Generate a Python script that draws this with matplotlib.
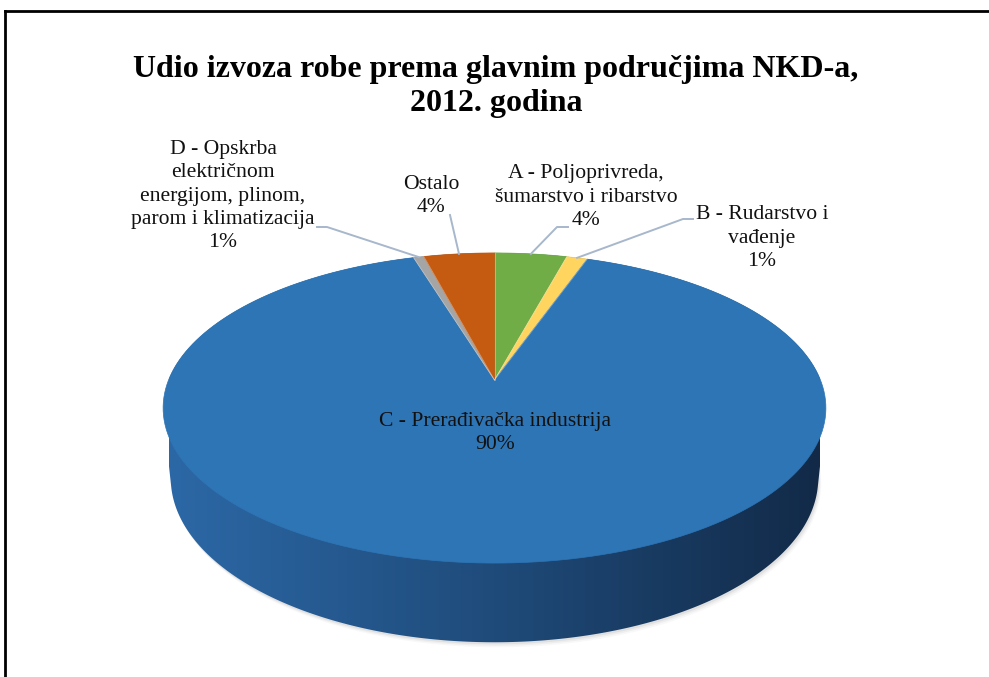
import numpy as np
import matplotlib
matplotlib.use("Agg")
import matplotlib.pyplot as plt
from matplotlib.patches import Polygon
from matplotlib.lines import Line2D
from matplotlib.colors import LinearSegmentedColormap

# ---------------- data ----------------
title_lines = ["Udio izvoza robe prema glavnim područjima NKD-a,", "2012. godina"]
categories = ["A - Poljoprivreda,\nšumarstvo i ribarstvo",
              "B - Rudarstvo i\nvađenje",
              "C - Prerađivačka industrija",
              "D - Opskrba\nelektričnom\nenergijom, plinom,\nparom i klimatizacija",
              "Ostalo"]
values = [4.2, 1.2, 89.9, 0.6, 4.1]
colors = ["#70ad47", "#ffd45f", "#2e75b6", "#a5a5a5", "#c55a11"]

# ---------------- layout / projection ----------------
W, Hh = 989, 677
fig = plt.figure(figsize=(W / 100, Hh / 100), dpi=100)
ax = fig.add_axes([0, 0, 1, 1])
ax.set_xlim(0, W)
ax.set_ylim(Hh, 0)
ax.axis("off")

PHI = np.radians(27.4)
S, C = np.sin(PHI), np.cos(PHI)
DIST = 5.536 * C
FOC = 1602.0
DEPTH = 0.245
CX, CY = 494.5, 380.0


def proj(X, Y, Z):
    yc = Y * S + Z * C
    d = DIST + Y * C - Z * S
    return CX + FOC * X / d, CY - FOC * yc / d


def edge(theta, z):
    return proj(np.sin(theta), np.cos(theta), z)


def convex_hull(points):
    pts = sorted(map(tuple, points))

    def cross(o, a, b):
        return (a[0] - o[0]) * (b[1] - o[1]) - (a[1] - o[1]) * (b[0] - o[0])

    lower, upper = [], []
    for p in pts:
        while len(lower) >= 2 and cross(lower[-2], lower[-1], p) <= 0:
            lower.pop()
        lower.append(p)
    for p in reversed(pts):
        while len(upper) >= 2 and cross(upper[-2], upper[-1], p) <= 0:
            upper.pop()
        upper.append(p)
    return np.array(lower[:-1] + upper[:-1])


total = sum(values)
bounds = np.concatenate([[0], np.cumsum(values)]) / total * 2 * np.pi

# silhouette of the whole disc (top + bottom rims)
tt = np.linspace(0, 2 * np.pi, 720)
tx, ty = edge(tt, 0)
bx, by = edge(tt, -DEPTH)
hull = convex_hull(np.r_[np.c_[tx, ty], np.c_[bx, by]])

# shadow under the pie
for k, a in [(5, 0.05), (3.5, 0.08), (2, 0.12)]:
    ax.add_patch(Polygon(np.c_[bx + k * 0.6, by + k], closed=True,
                         facecolor="#7f7f7f", edgecolor="none", alpha=a, zorder=1))

# side wall (only the big slice faces the viewer), horizontal gradient
side_cmap = LinearSegmentedColormap.from_list(
    "side", ["#2c68a6", "#1f4b7a", "#122a48"])
clip = Polygon(hull, closed=True, facecolor="none", edgecolor="none")
ax.add_patch(clip)
x_left, _ = proj(-1.02, 0, -DEPTH)
x_right, _ = proj(1.02, 0, -DEPTH)
grad = np.linspace(0, 1, 256).reshape(1, -1)
im = ax.imshow(grad, cmap=side_cmap, aspect="auto",
               extent=[x_left, x_right, 660, 240], zorder=2,
               interpolation="bilinear")
im.set_clip_path(clip)

# top faces
apex = proj(0, 0, 0)
for i, col in enumerate(colors):
    ts = np.linspace(bounds[i], bounds[i + 1], 200)
    ex, ey = edge(ts, 0)
    pts = np.vstack([[apex], np.c_[ex, ey]])
    ax.add_patch(Polygon(pts, closed=True, facecolor=col,
                         edgecolor=col, linewidth=0.5, zorder=3))
    ax.add_line(Line2D([apex[0], ex[0]], [apex[1], ey[0]],
                       color=(1, 1, 1, 0.35), linewidth=0.6, zorder=3.5))

# ---------------- text ----------------
serif = ["Liberation Serif", "DejaVu Serif"]
ax.text(496, 69, title_lines[0], ha="center", va="center", fontsize=23,
        fontweight="bold", family=serif, zorder=5)
ax.text(496, 103, title_lines[1], ha="center", va="center", fontsize=23,
        fontweight="bold", family=serif, zorder=5)

label_pos = [(586, 197), (762, 238), (495, 433), (223, 196), (431, 196)]
leader_start = [[(568, 227), (557, 227)],
                [(693, 219), (683, 219)],
                None,
                [(317, 227), (327, 227)],
                [(450, 215)]]
LEADER = "#a7b7cc"
for i, cat in enumerate(categories):
    pct = f"{round(values[i] / total * 100)}%"
    x, y = label_pos[i]
    ax.text(x, y, cat + "\n" + pct, ha="center", va="center", fontsize=15.6,
            family=serif, linespacing=1.31, zorder=5, color="#111111")
    if leader_start[i] is not None:
        mid = 0.5 * (bounds[i] + bounds[i + 1])
        ex, ey = edge(mid, 0)
        xs = [p[0] for p in leader_start[i]] + [ex]
        ys = [p[1] for p in leader_start[i]] + [ey]
        ax.add_line(Line2D(xs, ys, color=LEADER, linewidth=1.4, zorder=4))

# chart frame (partially cropped)
ax.add_line(Line2D([5, 5], [677, 11], color="black", linewidth=2, zorder=6))
ax.add_line(Line2D([5, 989], [11, 11], color="black", linewidth=2, zorder=6))

fig.savefig("out.png", dpi=100, facecolor="white")
